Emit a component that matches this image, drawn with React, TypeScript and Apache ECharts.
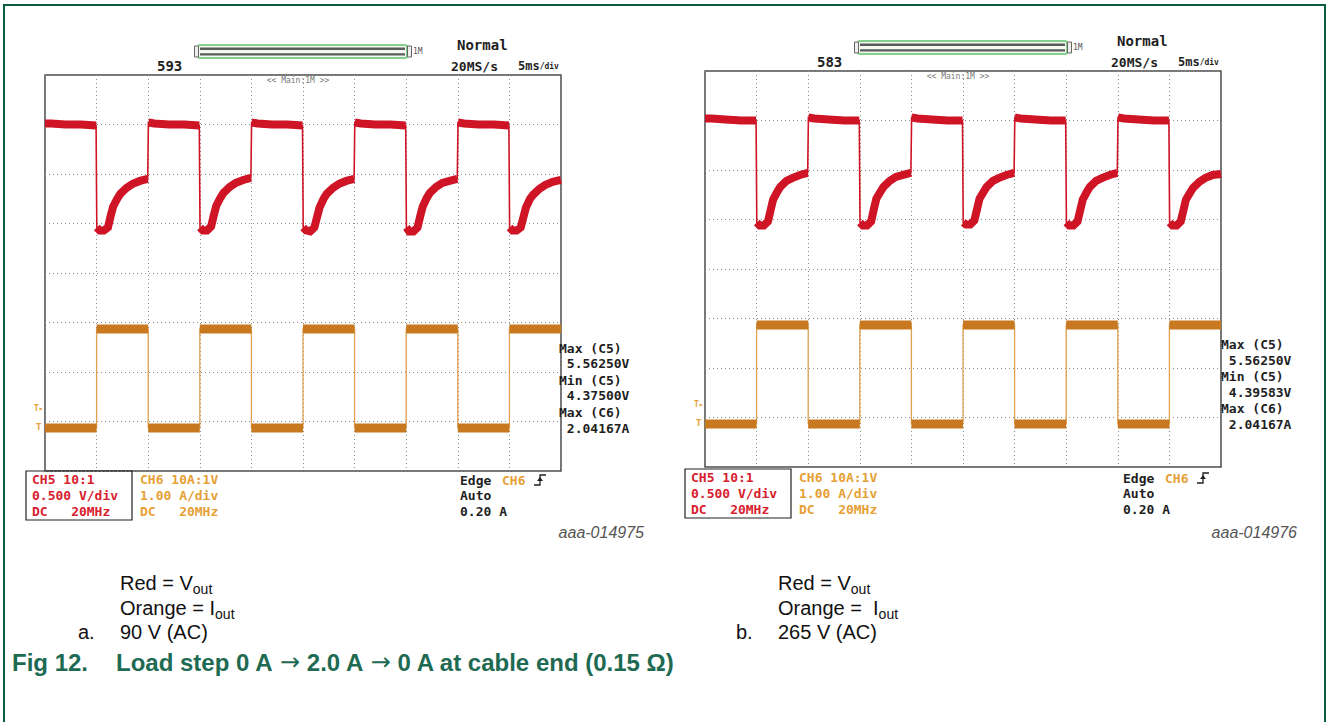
import React, { useEffect, useRef } from "react";
import * as echarts from "echarts";

// ---------- data (time in ms, 5 ms/div) ----------
const timeTicksMs = [0, 5, 10, 15, 20, 25, 30, 35, 40, 45, 50];

// Vout, 90 V (AC)  [ms, V]
const voutLeft = [
  [0, 5.51], [0.6, 5.51], [2.0, 5.5], [3.5, 5.5], [4.95, 5.49],
  [5.02, 4.46], [5.3, 4.43], [5.7, 4.43], [6.1, 4.46], [6.35, 4.57], [6.6, 4.67], [7.0, 4.75], [7.3, 4.8], [7.9, 4.86], [8.5, 4.9], [9.2, 4.93], [9.95, 4.95],
  [10.02, 5.52], [10.6, 5.51], [12.0, 5.5], [13.5, 5.5], [14.95, 5.49],
  [15.02, 4.46], [15.3, 4.43], [15.7, 4.43], [16.1, 4.47], [16.35, 4.58], [16.6, 4.68], [17.0, 4.76], [17.3, 4.81], [17.9, 4.87], [18.5, 4.91], [19.2, 4.94], [19.95, 4.96],
  [20.02, 5.52], [20.6, 5.51], [22.0, 5.5], [23.5, 5.5], [24.95, 5.49],
  [25.02, 4.46], [25.3, 4.43], [25.7, 4.42], [26.1, 4.46], [26.35, 4.56], [26.6, 4.66], [27.0, 4.75], [27.3, 4.8], [27.9, 4.86], [28.5, 4.9], [29.2, 4.93], [29.95, 4.95],
  [30.02, 5.52], [30.6, 5.51], [32.0, 5.5], [33.5, 5.5], [34.95, 5.49],
  [35.02, 4.46], [35.3, 4.42], [35.7, 4.42], [36.1, 4.46], [36.35, 4.57], [36.6, 4.67], [37.0, 4.76], [37.3, 4.81], [37.9, 4.87], [38.5, 4.91], [39.2, 4.93], [39.95, 4.95],
  [40.02, 5.52], [40.6, 5.51], [42.0, 5.5], [43.5, 5.5], [44.95, 5.49],
  [45.02, 4.46], [45.3, 4.43], [45.7, 4.43], [46.1, 4.46], [46.35, 4.56], [46.6, 4.66], [47.0, 4.75], [47.3, 4.79], [47.9, 4.85], [48.5, 4.89], [49.2, 4.92], [50.0, 4.94],
];

// Iout, 90 V (AC)  [ms, A]
const ioutLeft = [
  [0, 0], [5, 0], [5, 2], [10, 2], [10, 0], [15, 0], [15, 2], [20, 2], [20, 0],
  [25, 0], [25, 2], [30, 2], [30, 0], [35, 0], [35, 2], [40, 2], [40, 0], [45, 0], [45, 2], [50, 2],
];

// Vout, 265 V (AC)  [ms, V]
const voutRight = [
  [0, 5.52], [0.6, 5.52], [2.0, 5.51], [3.5, 5.5], [4.95, 5.5],
  [5.02, 4.47], [5.3, 4.44], [5.7, 4.44], [6.1, 4.48], [6.35, 4.59], [6.6, 4.7], [7.0, 4.78], [7.3, 4.83], [7.9, 4.89], [8.5, 4.92], [9.2, 4.95], [9.95, 4.97],
  [10.02, 5.53], [10.6, 5.52], [12.0, 5.51], [13.5, 5.5], [14.95, 5.5],
  [15.02, 4.47], [15.3, 4.44], [15.7, 4.44], [16.1, 4.48], [16.35, 4.6], [16.6, 4.71], [17.0, 4.78], [17.3, 4.83], [17.9, 4.89], [18.5, 4.93], [19.2, 4.95], [19.95, 4.97],
  [20.02, 5.53], [20.6, 5.52], [22.0, 5.51], [23.5, 5.5], [24.95, 5.5],
  [25.02, 4.47], [25.3, 4.45], [25.7, 4.45], [26.1, 4.49], [26.35, 4.6], [26.6, 4.71], [27.0, 4.78], [27.3, 4.83], [27.9, 4.89], [28.5, 4.92], [29.2, 4.95], [29.95, 4.97],
  [30.02, 5.53], [30.6, 5.52], [32.0, 5.51], [33.5, 5.5], [34.95, 5.5],
  [35.02, 4.47], [35.3, 4.44], [35.7, 4.44], [36.1, 4.48], [36.35, 4.59], [36.6, 4.7], [37.0, 4.78], [37.3, 4.83], [37.9, 4.89], [38.5, 4.92], [39.2, 4.95], [39.95, 4.97],
  [40.02, 5.53], [40.6, 5.52], [42.0, 5.51], [43.5, 5.5], [44.95, 5.5],
  [45.02, 4.47], [45.3, 4.44], [45.7, 4.44], [46.1, 4.48], [46.35, 4.59], [46.6, 4.7], [47.0, 4.77], [47.3, 4.82], [47.9, 4.88], [48.5, 4.92], [49.2, 4.95], [50.0, 4.96],
];

// Iout, 265 V (AC)  [ms, A]
const ioutRight = [
  [0, 0], [5, 0], [5, 2], [10, 2], [10, 0], [15, 0], [15, 2], [20, 2], [20, 0],
  [25, 0], [25, 2], [30, 2], [30, 0], [35, 0], [35, 2], [40, 2], [40, 0], [45, 0], [45, 2], [50, 2],
];

const measLeft = ["Max (C5)", " 5.56250V", "Min (C5)", " 4.37500V", "Max (C6)", " 2.04167A"];
const measRight = ["Max (C5)", " 5.56250V", "Min (C5)", " 4.39583V", "Max (C6)", " 2.04167A"];
const ch5Lines = ["CH5 10:1", "0.500 V/div", "DC   20MHz"];
const ch6Lines = ["CH6 10A:1V", "1.00 A/div", "DC   20MHz"];
const trigLines = ["Auto", "0.20 A"];
const captionParts = ["Load step 0 A ", "\u2192", " 2.0 A ", "\u2192", " 0 A at cable end (0.15 \u03A9)"];

// ---------- styling ----------
const RED = "#cf1426";
const ORANGE_BAND = "#c8791f";
const ORANGE_THIN = "#dea252";
const ORANGE_TXT = "#e6a035";
const RED_TXT = "#d8202e";
const DARK = "#1f1f1f";
const GREEN = "#0b5a46";
const CAPTION = "#1e6a52";
const MONO = '"DejaVu Sans Mono"';
const SANS = '"Liberation Sans", Arial, sans-serif';

function splitEdges(pts: number[][]) {
  const out: any[] = [];
  for (let i = 0; i < pts.length; i++) {
    if (i > 0) {
      const dt = Math.abs(pts[i][0] - pts[i - 1][0]);
      const dv = Math.abs(pts[i][1] - pts[i - 1][1]);
      if (dt < 0.1 && dv > 0.2) out.push([NaN, NaN]);
    }
    out.push(pts[i]);
  }
  return out;
}

function tw(text: string, font: string) {
  const c = document.createElement("canvas").getContext("2d")!;
  c.font = font;
  return c.measureText(text).width;
}

function txt(x: number, y: number, text: string, fill: string, font: string, align = "left") {
  return {
    type: "text",
    x,
    y,
    silent: true,
    style: { text, fill, font, textAlign: align, textVerticalAlign: "middle" },
  };
}

function panel(p: any) {
  const els: any[] = [];
  const mf = (s: number) => `bold ${s}px ${MONO}`;
  // header
  els.push(txt(p.hx + 157, p.hy + 66, p.count, DARK, mf(14)));
  // scrollbar
  els.push({ type: "rect", shape: { x: p.hx + 198, y: p.hy + 45, width: 209, height: 13, r: 2 }, style: { fill: "#f2faf2", stroke: "#83d08d", lineWidth: 2 } });
  els.push({ type: "line", shape: { x1: p.hx + 200, y1: p.hy + 48.8, x2: p.hx + 405, y2: p.hy + 48.8 }, style: { stroke: "#5b5b5b", lineWidth: 2.4 } });
  els.push({ type: "line", shape: { x1: p.hx + 200, y1: p.hy + 54.4, x2: p.hx + 405, y2: p.hy + 54.4 }, style: { stroke: "#5b5b5b", lineWidth: 2.4 } });
  els.push({ type: "rect", shape: { x: p.hx + 194.5, y: p.hy + 46, width: 4, height: 11 }, style: { fill: "#eeeeee", stroke: "#666", lineWidth: 1 } });
  els.push({ type: "rect", shape: { x: p.hx + 407.5, y: p.hy + 46, width: 4, height: 11 }, style: { fill: "#eeeeee", stroke: "#666", lineWidth: 1 } });
  els.push(txt(p.hx + 413, p.hy + 51, "1M", "#555", `8px ${MONO}`));
  els.push(txt(p.hx + 457, p.hy + 45, "Normal", DARK, mf(14)));
  els.push(txt(p.hx + 451, p.hy + 66, "20MS/s", DARK, mf(13)));
  els.push({
    type: "text",
    x: p.hx + 518,
    y: p.hy + 66,
    silent: true,
    style: {
      text: "{a|5ms}{b|/div}",
      textVerticalAlign: "middle",
      rich: {
        a: { font: mf(12), fill: DARK },
        b: { font: `bold 8px ${MONO}`, fill: DARK },
      },
    },
  });
  els.push(txt(p.hx + 298, p.hy + 80, "<< Main:1M >>", "#777", `8px ${MONO}`, "center"));
  // measurements
  p.meas.forEach((m: string, i: number) => {
    els.push(txt(p.mx, p.my[i], m, DARK, mf(13)));
  });
  // trigger markers
  els.push(txt(p.hx + 34, p.hy + 408, "T▸", ORANGE_TXT, `bold 8px ${MONO}`));
  els.push(txt(p.hx + 36, p.hy + 427, "T", ORANGE_TXT, `bold 9px ${MONO}`));
  // channel box
  els.push({ type: "rect", shape: { x: p.bx, y: p.by, width: 106, height: 49 }, style: { fill: "none", stroke: "#222", lineWidth: 1.2 } });
  ch5Lines.forEach((s, i) => els.push(txt(p.bx + 6, p.by + 8 + i * 16, s, RED_TXT, mf(13))));
  ch6Lines.forEach((s, i) => els.push(txt(p.bx + 114, p.by + 8 + i * 16, s, ORANGE_TXT, mf(13))));
  // trigger block
  els.push(txt(p.ex, p.ey, "Edge", DARK, mf(13)));
  els.push(txt(p.ex + 42, p.ey, "CH6", ORANGE_TXT, mf(13)));
  els.push({ type: "polyline", shape: { points: [[p.ex + 74, p.ey + 5], [p.ex + 80, p.ey + 5], [p.ex + 80, p.ey - 5], [p.ex + 86, p.ey - 5]] }, style: { stroke: DARK, lineWidth: 1.3, fill: "none" } });
  els.push({ type: "polygon", shape: { points: [[p.ex + 77, p.ey + 1], [p.ex + 83, p.ey + 1], [p.ex + 80, p.ey - 3]] }, style: { fill: DARK } });
  trigLines.forEach((s, i) => els.push(txt(p.ex, p.ey + 15 + i * 16, s, DARK, mf(13))));
  // figure id
  els.push(txt(p.idx, p.idy, p.id, "#555", `italic 16px ${SANS}`, "right"));
  // legend texts below
  const f = `20px ${SANS}`;
  const fs = `14px ${SANS}`;
  const a = p.lx;
  els.push(txt(a, 583, "Red = V", "#111", f));
  els.push(txt(a + tw("Red = V", f), 589, "out", "#111", fs));
  els.push(txt(a, 608, p.orange, "#111", f));
  els.push(txt(a + tw(p.orange, f), 614, "out", "#111", fs));
  els.push(txt(a - 42, 632, p.letter, "#111", f));
  els.push(txt(a, 632, p.cond, "#111", f));
  return els;
}

const App: React.FC = () => {
  const ref = useRef<HTMLDivElement>(null);
  useEffect(() => {
    document.body.style.margin = "0";
    const chart = echarts.init(ref.current!, undefined, { renderer: "svg" });

    const gridDef = (left: number, top: number) => ({
      left,
      top,
      width: 516,
      height: 396,
      show: true,
      borderColor: "#4a4a4a",
      borderWidth: 1.5,
      backgroundColor: "#ffffff",
    });
    const dotted = { show: true, lineStyle: { type: [1, 3], color: "#8c8c8c", width: 1 } };
    const xAx = (gi: number) => ({
      type: "value",
      gridIndex: gi,
      min: timeTicksMs[0],
      max: timeTicksMs[timeTicksMs.length - 1],
      interval: 5,
      axisLine: { show: false },
      axisTick: { show: false },
      axisLabel: { show: false },
      splitLine: dotted,
    });
    const vAx = (gi: number) => ({
      type: "value",
      gridIndex: gi,
      min: 2,
      max: 6,
      interval: 0.5,
      axisLine: { show: false },
      axisTick: { show: false },
      axisLabel: { show: false },
      splitLine: dotted,
    });
    const iAx = (gi: number) => ({
      type: "value",
      gridIndex: gi,
      min: -0.87,
      max: 7.13,
      show: false,
      splitLine: { show: false },
    });
    const line = (xi: number, yi: number, data: any[], color: string, w: number, z: number) => ({
      type: "line",
      xAxisIndex: xi,
      yAxisIndex: yi,
      data,
      showSymbol: false,
      symbol: "none",
      connectNulls: false,
      z,
      lineStyle: { color, width: w, cap: "butt", join: "miter" },
      itemStyle: { color },
      silent: true,
    });

    const capFont = `bold 24px ${SANS}`;
    const arrowFont = `24px "DejaVu Sans"`;
    const graphics: any[] = [
      { type: "rect", shape: { x: 4, y: 5, width: 1321, height: 730 }, style: { fill: "none", stroke: GREEN, lineWidth: 2 } },
      ...panel({
        hx: 0, hy: 0, count: "593", meas: measLeft, mx: 559, my: [348, 363, 380, 395, 412, 428],
        bx: 26, by: 471, ex: 460, ey: 480, idx: 644, idy: 532, id: "aaa-014975",
        lx: 120, orange: "Orange = I", letter: "a.", cond: "90 V (AC)",
      }),
      ...panel({
        hx: 660, hy: -4, count: "583", meas: measRight, mx: 1221, my: [344, 360, 376, 392, 408, 424],
        bx: 685, by: 469, ex: 1123, ey: 478, idx: 1297, idy: 532, id: "aaa-014976",
        lx: 778, orange: "Orange =  I", letter: "b.", cond: "265 V (AC)",
      }),
      txt(12, 662, "Fig 12.", CAPTION, capFont),
      {
        type: "text",
        x: 116,
        y: 662,
        silent: true,
        style: {
          text: captionParts.map((s, i) => (i % 2 === 1 ? `{r|${s}}` : `{t|${s}}`)).join(""),
          textVerticalAlign: "middle",
          rich: {
            t: { font: capFont, fill: CAPTION },
            r: { font: arrowFont, fill: CAPTION },
          },
        },
      },
    ];

    chart.setOption({
      animation: false,
      backgroundColor: "#ffffff",
      grid: [gridDef(45, 75), gridDef(705, 71)],
      xAxis: [xAx(0), xAx(1)],
      yAxis: [vAx(0), iAx(0), vAx(1), iAx(1)],
      series: [
        line(0, 1, ioutLeft, ORANGE_THIN, 1.3, 2),
        line(0, 1, splitEdges(ioutLeft), ORANGE_BAND, 9, 3),
        line(0, 0, voutLeft, RED, 1.6, 4),
        line(0, 0, splitEdges(voutLeft), RED, 8, 5),
        line(1, 3, ioutRight, ORANGE_THIN, 1.3, 2),
        line(1, 3, splitEdges(ioutRight), ORANGE_BAND, 9, 3),
        line(1, 2, voutRight, RED, 1.6, 4),
        line(1, 2, splitEdges(voutRight), RED, 8, 5),
      ],
      graphic: graphics,
    });
    return () => chart.dispose();
  }, []);
  return <div ref={ref} style={{ width: 1327, height: 722 }} />;
};

export default App;
